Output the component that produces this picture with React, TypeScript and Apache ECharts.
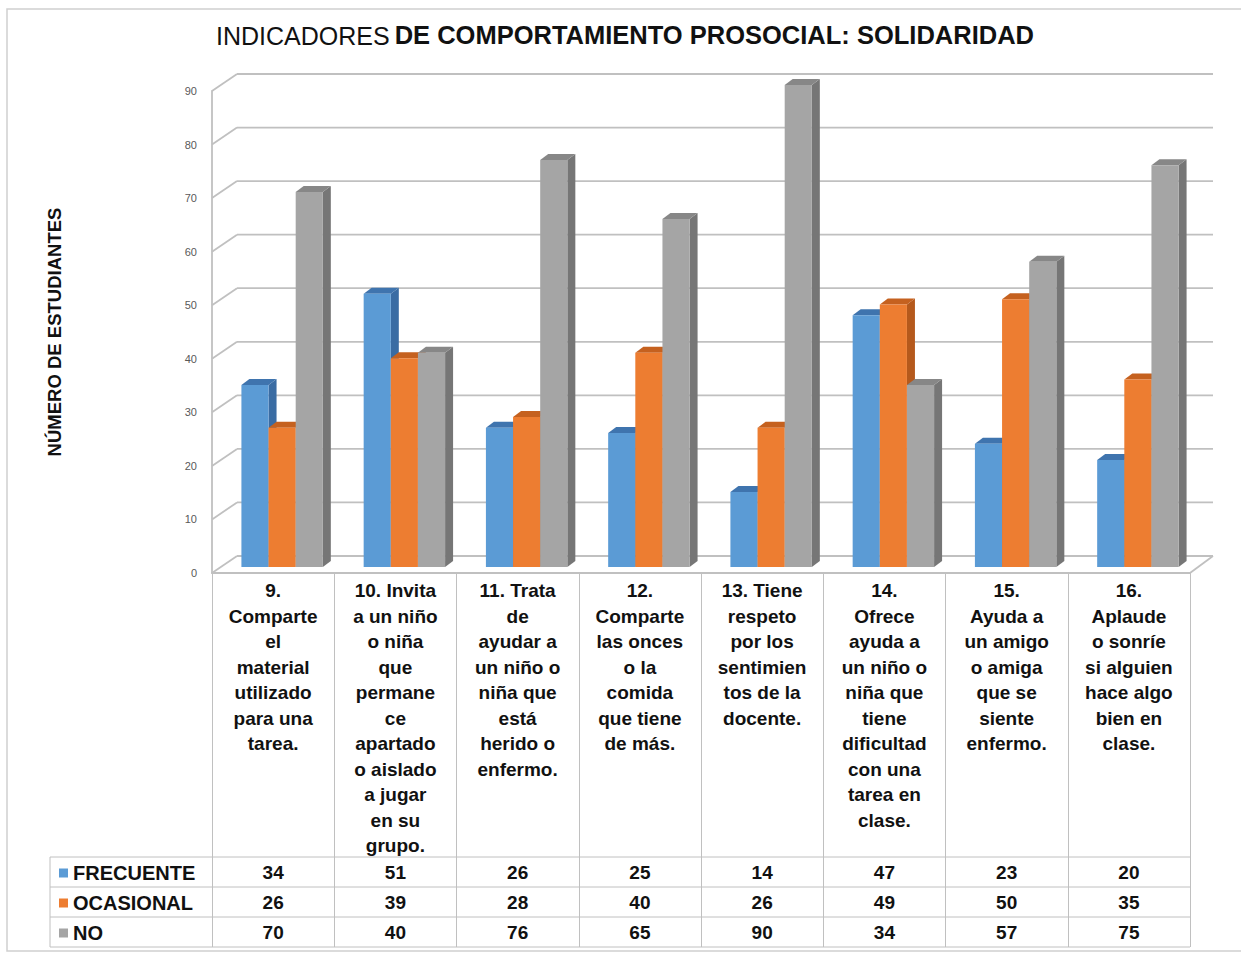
import React, { useEffect, useRef } from 'react';
import * as echarts from 'echarts';

const categories = [
  '9.\nComparte\nel\nmaterial\nutilizado\npara una\ntarea.',
  '10. Invita\na un niño\no niña\nque\npermane\nce\napartado\no aislado\na jugar\nen su\ngrupo.',
  '11. Trata\nde\nayudar a\nun niño o\nniña que\nestá\nherido o\nenfermo.',
  '12.\nComparte\nlas onces\no la\ncomida\nque tiene\nde más.',
  '13. Tiene\nrespeto\npor los\nsentimien\ntos de la\ndocente.',
  '14.\nOfrece\nayuda a\nun niño o\nniña que\ntiene\ndificultad\ncon una\ntarea en\nclase.',
  '15.\nAyuda a\nun amigo\no amiga\nque se\nsiente\nenfermo.',
  '16.\nAplaude\no sonríe\nsi alguien\nhace algo\nbien en\nclase.',
];
const frecuente = [34, 51, 26, 25, 14, 47, 23, 20];
const ocasional = [26, 39, 28, 40, 26, 49, 50, 35];
const noValues = [70, 40, 76, 65, 90, 34, 57, 75];
const seriesNames = ['FRECUENTE', 'OCASIONAL', 'NO'];
const yTicks = [0, 10, 20, 30, 40, 50, 60, 70, 80, 90];

const FONT = "'Liberation Sans', Arial, sans-serif";
const frontColors = ['#5B9BD5', '#ED7D31', '#A5A5A5'];
const sideColors = ['#3A6CA3', '#B5591C', '#767676'];
const topColors = ['#3F74AE', '#C5611F', '#878787'];
const lineColor = '#c0c0c0';

const WALL_DX = 25;
const WALL_DY = -17;

function makeBarRenderer(k: number) {
  return (params: any, api: any) => {
    const i = api.value(0);
    const v = api.value(1);
    const p0 = api.coord([i, 0]);
    const p1 = api.coord([i, v]);
    const band = api.size([1, 0])[0];
    const w = band * 0.222;
    const shiftX = 9;
    const shiftY = -6;
    const sd = 8;
    const sdy = 6;
    const left = p0[0] - 1.5 * w + shiftX + k * w;
    const yb = p0[1] + shiftY;
    const yt = p1[1] + shiftY;
    return {
      type: 'group',
      children: [
        {
          type: 'polygon',
          shape: {
            points: [
              [left + w, yt],
              [left + w + sd, yt - sdy],
              [left + w + sd, yb - sdy],
              [left + w, yb],
            ],
          },
          style: { fill: sideColors[k] },
        },
        {
          type: 'polygon',
          shape: {
            points: [
              [left, yt],
              [left + sd, yt - sdy],
              [left + w + sd, yt - sdy],
              [left + w, yt],
            ],
          },
          style: { fill: topColors[k] },
        },
        {
          type: 'rect',
          shape: { x: left, y: yt, width: w, height: yb - yt },
          style: { fill: frontColors[k] },
        },
      ],
    };
  };
}

function renderFrame(params: any, api: any) {
  const v = api.value(1);
  const cs = params.coordSys;
  const y = api.coord([0, v])[1];
  const x0 = cs.x;
  const x1 = cs.x + cs.width;
  const children: any[] = [
    {
      type: 'line',
      shape: { x1: x0, y1: y, x2: x0 + WALL_DX, y2: y + WALL_DY },
      style: { stroke: lineColor, lineWidth: 1.8 },
    },
    {
      type: 'line',
      shape: { x1: x0 + WALL_DX, y1: y + WALL_DY, x2: x1 + WALL_DX - 2, y2: y + WALL_DY },
      style: { stroke: lineColor, lineWidth: 1.8 },
    },
  ];
  if (v === 0) {
    children.push({
      type: 'line',
      shape: { x1: x1, y1: y, x2: x1 + WALL_DX - 2, y2: y + WALL_DY },
      style: { stroke: lineColor, lineWidth: 1.8 },
    });
  }
  return { type: 'group', children };
}

export default function App() {
  const ref = useRef<HTMLDivElement>(null);
  useEffect(() => {
    if (!ref.current) return;
    const chart = echarts.init(ref.current, undefined, { renderer: 'svg' });
    const allValues = [frecuente, ocasional, noValues];
    const tableRowCenters = [872, 902, 932];
    const gridBottomY = 573;
    const option: any = {
      animation: false,
      backgroundColor: '#ffffff',
      title: {
        text: '{a|INDICADORES} {b|DE COMPORTAMIENTO PROSOCIAL: SOLIDARIDAD}',
        left: 211,
        top: 17,
        textStyle: {
          rich: {
            a: {
              fontFamily: FONT,
              fontSize: 25,
              fontWeight: 'normal',
              color: '#111',
              verticalAlign: 'bottom',
            },
            b: {
              fontFamily: FONT,
              fontSize: 25.5,
              fontWeight: 'bold',
              color: '#111',
              verticalAlign: 'bottom',
            },
          },
        },
      },
      legend: {
        orient: 'vertical',
        left: 54,
        top: 858,
        itemWidth: 9,
        itemHeight: 9,
        itemGap: 10,
        icon: 'rect',
        selectedMode: false,
        data: seriesNames,
        textStyle: { fontFamily: FONT, fontSize: 20, fontWeight: 'bold', color: '#111', lineHeight: 20 },
      },
      grid: { left: 212, right: 51, top: 91, bottom: 956 - gridBottomY },
      xAxis: [
        {
          type: 'category',
          data: categories,
          axisLine: { show: true, lineStyle: { color: lineColor, width: 1.8 } },
          axisTick: { show: true, interval: 0, length: 374, inside: false, lineStyle: { color: lineColor, width: 1 } },
          axisLabel: {
            interval: 0,
            margin: 5,
            fontFamily: FONT,
            fontSize: 19,
            fontWeight: 'bold',
            color: '#111',
            lineHeight: 25.5,
          },
        },
        ...allValues.map((vals, r) => ({
          type: 'category',
          position: 'bottom',
          offset: tableRowCenters[r] - gridBottomY,
          data: vals.map(String),
          axisLine: { show: false },
          axisTick: { show: false },
          axisLabel: {
            interval: 0,
            margin: 0,
            verticalAlign: 'middle',
            fontFamily: FONT,
            fontSize: 19,
            fontWeight: 'bold',
            color: '#111',
          },
        })),
      ],
      yAxis: {
        type: 'value',
        min: 0,
        max: 90,
        interval: 10,
        name: 'NÚMERO DE ESTUDIANTES',
        nameLocation: 'middle',
        nameGap: 148,
        nameRotate: 90,
        nameTextStyle: { fontFamily: FONT, fontSize: 18.5, fontWeight: 'bold', color: '#111' },
        axisLine: { show: true, lineStyle: { color: lineColor, width: 1.8 } },
        axisTick: { show: false },
        splitLine: { show: false },
        axisLabel: { fontFamily: FONT, fontSize: 11, color: '#595959', margin: 15 },
      },
      graphic: [
        {
          type: 'rect',
          shape: { x: 7, y: 9, width: 1245, height: 942 },
          style: { fill: 'none', stroke: '#d0d0d0', lineWidth: 1.5 },
          z: -10,
        },
        ...[857, 887, 917, 947].map((y) => ({
          type: 'line',
          shape: { x1: 50, y1: y, x2: 1190, y2: y },
          style: { stroke: lineColor, lineWidth: 1 },
        })),
        {
          type: 'line',
          shape: { x1: 50, y1: 857, x2: 50, y2: 947 },
          style: { stroke: lineColor, lineWidth: 1 },
        },
      ],
      series: [
        {
          type: 'custom',
          name: 'frame',
          z: 1,
          clip: false,
          silent: true,
          renderItem: renderFrame,
          encode: { x: 0, y: 1 },
          data: yTicks.map((t) => [0, t]),
        },
        ...allValues.map((vals, k) => ({
          type: 'custom',
          name: seriesNames[k],
          z: 2,
          clip: false,
          itemStyle: { color: frontColors[k] },
          renderItem: makeBarRenderer(k),
          encode: { x: 0, y: 1 },
          data: vals.map((v, i) => [i, v]),
        })),
      ],
    };
    chart.setOption(option);
    return () => chart.dispose();
  }, []);
  return (
    <div
      ref={ref}
      style={{ position: 'fixed', left: 0, top: 0, width: 1241, height: 956 }}
    />
  );
}
